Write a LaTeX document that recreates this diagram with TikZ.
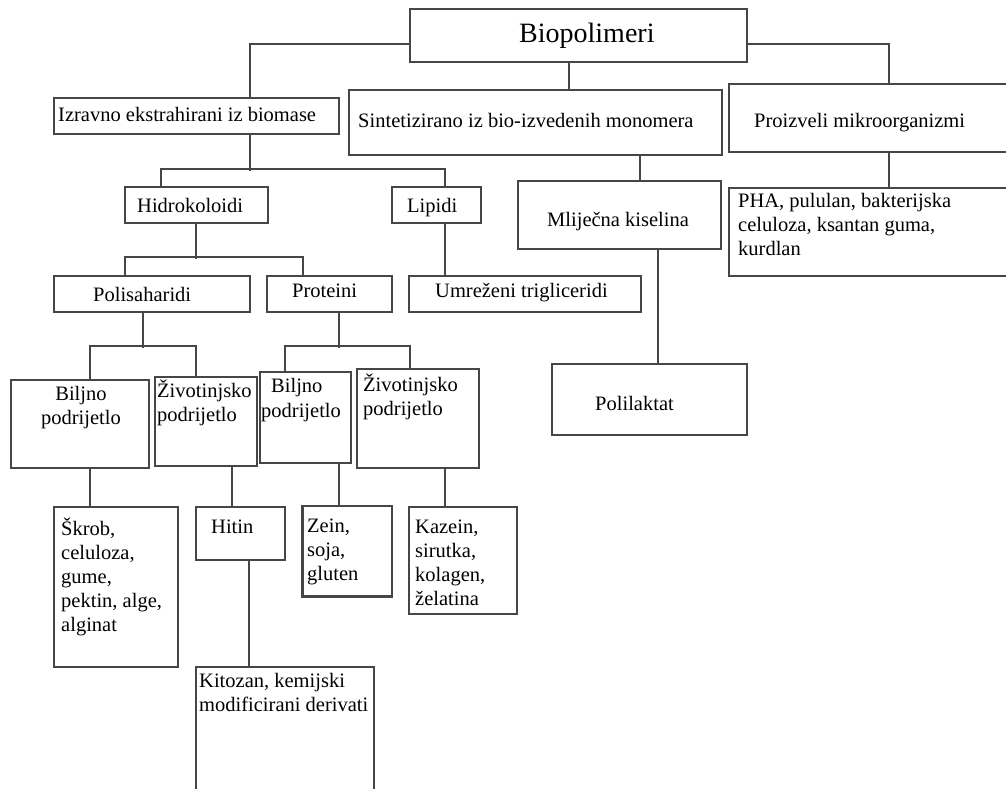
\documentclass[tikz,border=0pt]{standalone}
\usepackage{fontspec}
\setmainfont{Liberation Serif}
\usetikzlibrary{calc}
\definecolor{linec}{RGB}{70,70,70}
\tikzset{
  box/.style={draw=linec, line width=1.6pt, fill=white, inner sep=0pt, rectangle},
  conn/.style={draw=linec, line width=1.6pt},
  txt/.style={inner sep=0pt, font=\fontsize{20.5}{24}\selectfont, text=black},
  bigtxt/.style={inner sep=0pt, font=\fontsize{28}{33}\selectfont, text=black}
}
\newcommand{\mlines}[1]{\begin{tabular}[t]{@{}l@{}}#1\end{tabular}}
\begin{document}
\begin{tikzpicture}[x=1pt,y=-1pt]
\clip (0,0) rectangle (1006,789);
\fill[white] (0,0) rectangle (1006,789);
% boxes
\node[box, minimum width=337, minimum height=53] (bio) at (578.5,35.5) {};
\node[box, minimum width=285, minimum height=36] (izr) at (196.5,116) {};
\node[box, minimum width=373, minimum height=65] (sin) at (535.5,122.5) {};
\node[box, minimum width=291, minimum height=68] (pro) at (874.5,118) {};
\node[box, minimum width=291, minimum height=88] (pha) at (874.5,232) {};
\node[box, minimum width=203, minimum height=68] (mli) at (619.5,215) {};
\node[box, minimum width=195, minimum height=71] (pla) at (649.5,399.5) {};
\node[box, minimum width=143, minimum height=36] (hid) at (196.5,205) {};
\node[box, minimum width=89, minimum height=36] (lip) at (436.5,205) {};
\node[box, minimum width=196, minimum height=36] (pol) at (152,294) {};
\node[box, minimum width=125, minimum height=36] (prt) at (329.5,294) {};
\node[box, minimum width=232, minimum height=36] (umr) at (525,294) {};
\node[box, minimum width=138, minimum height=88] (bj1) at (80,424) {};
\node[box, minimum width=102, minimum height=89] (zv1) at (206,421.5) {};
\node[box, minimum width=91, minimum height=91] (bj2) at (305.5,417.5) {};
\node[box, minimum width=122, minimum height=99] (zv2) at (418,418.5) {};
\node[box, minimum width=124, minimum height=160] (skr) at (116,587) {};
\node[box, minimum width=89, minimum height=53] (hit) at (240.5,533.5) {};
\node[box, minimum width=89, minimum height=90] (zei) at (347.5,551) {};
\draw[linec, line width=3pt] (zei.north west) |- (zei.south east);
\node[box, minimum width=108, minimum height=107] (kaz) at (463,560.5) {};
\node[box, minimum width=178, minimum height=133] (kit) at (285,733.5) {};
% connectors
\draw[conn] ($(bio.west)+(0,8.5)$) -| ($(izr.north)+(53.5,0)$);
\draw[conn] ($(bio.south)+(-9.5,0)$) -- ($(sin.north)+(33.5,0)$);
\draw[conn] ($(bio.east)+(0,8.5)$) -| ($(pro.north)+(14.5,0)$);
\draw[conn] ($(pro.south)+(14.5,0)$) -- ($(pha.north)+(14.5,0)$);
\draw[conn] ($(sin.south)+(104.5,0)$) -- ($(mli.north)+(20.5,0)$);
\draw[conn] ($(mli.south)+(38.5,0)$) -- ($(pla.north)+(8.5,0)$);
\draw[conn] ($(izr.south)+(53.5,0)$) -- ++(0,36);
\draw[conn] ($(hid.north)+(-35.5,0)$) -- ++(0,-17) -| ($(lip.north)+(8.5,0)$);
\draw[conn] ($(hid.south)+(-0.5,0)$) -- ++(0,35);
\draw[conn] ($(pol.north)+(-27,0)$) -- ++(0,-18) -| ($(prt.north)+(-26.5,0)$);
\draw[conn] ($(lip.south)+(8.5,0)$) -- ($(umr.north)+(-80,0)$);
\draw[conn] ($(pol.south)+(-9,0)$) -- ++(0,35);
\draw[conn] ($(bj1.north)+(10,0)$) -- ++(0,-33) -| ($(zv1.north)+(-10,0)$);
\draw[conn] ($(prt.south)+(9.5,0)$) -- ++(0,35);
\draw[conn] ($(bj2.north)+(-20.5,0)$) -- ++(0,-25) -| ($(zv2.north)+(-8,0)$);
\draw[conn] ($(bj1.south)+(10,0)$) -- ($(skr.north)+(-26,0)$);
\draw[conn] ($(zv1.south)+(26,0)$) -- ($(hit.north)+(-8.5,0)$);
\draw[conn] ($(hit.south)+(8.5,0)$) -- ($(kit.north)+(-36,0)$);
\draw[conn] ($(bj2.south)+(33.5,0)$) -- ($(zei.north)+(-8.5,0)$);
\draw[conn] ($(zv2.south)+(27,0)$) -- ($(kaz.north)+(-18,0)$);
% texts
\node[bigtxt, anchor=base west] (t-bio) at (519,43) {Biopolimeri};
\node[txt, anchor=base west] (t-izr) at (58,122) {Izravno ekstrahirani iz biomase};
\node[txt, anchor=base west] (t-sin) at (358,128) {Sintetizirano iz bio-izvedenih monomera};
\node[txt, anchor=base west] (t-pro) at (754,128) {Proizveli mikroorganizmi};
\node[txt, anchor=base west] (t-pha) at (738,207) {\mlines{PHA, pululan, bakterijska\\celuloza, ksantan guma,\\kurdlan}};
\node[txt, anchor=base west] (t-mli) at (547,226) {Mliječna kiselina};
\node[txt, anchor=base west] (t-hid) at (137,212) {Hidrokoloidi};
\node[txt, anchor=base west] (t-lip) at (407,212) {Lipidi};
\node[txt, anchor=base west] (t-pol) at (93,301) {Polisaharidi};
\node[txt, anchor=base west] (t-prt) at (292,297) {Proteini};
\node[txt, anchor=base west] (t-umr) at (435,297) {Umreženi trigliceridi};
\node[txt, anchor=base west] (t-pla) at (595,410) {Polilaktat};
\node[txt, anchor=base] (t-bj1) at (81,400) {\begin{tabular}[t]{@{}c@{}}Biljno\\podrijetlo\end{tabular}};
\node[txt, anchor=base west] (t-zv1) at (157,397) {\mlines{Životinjsko\\podrijetlo}};
\node[txt, anchor=base west] (t-bj2a) at (271,392) {Biljno};
\node[txt, anchor=base west] (t-bj2b) at (261,417) {podrijetlo};
\node[txt, anchor=base west] (t-zv2) at (363,391) {\mlines{Životinjsko\\podrijetlo}};
\node[txt, anchor=base west] (t-skr) at (61,535) {\mlines{Škrob,\\celuloza,\\gume,\\pektin, alge,\\alginat}};
\node[txt, anchor=base west] (t-hit) at (211,533) {Hitin};
\node[txt, anchor=base west] (t-zei) at (307,532) {\mlines{Zein,\\soja,\\gluten}};
\node[txt, anchor=base west] (t-kaz) at (415,533) {\mlines{Kazein,\\sirutka,\\kolagen,\\želatina}};
\node[txt, anchor=base west] (t-kit) at (199,687) {\mlines{Kitozan, kemijski\\modificirani derivati}};
\end{tikzpicture}
\end{document}
